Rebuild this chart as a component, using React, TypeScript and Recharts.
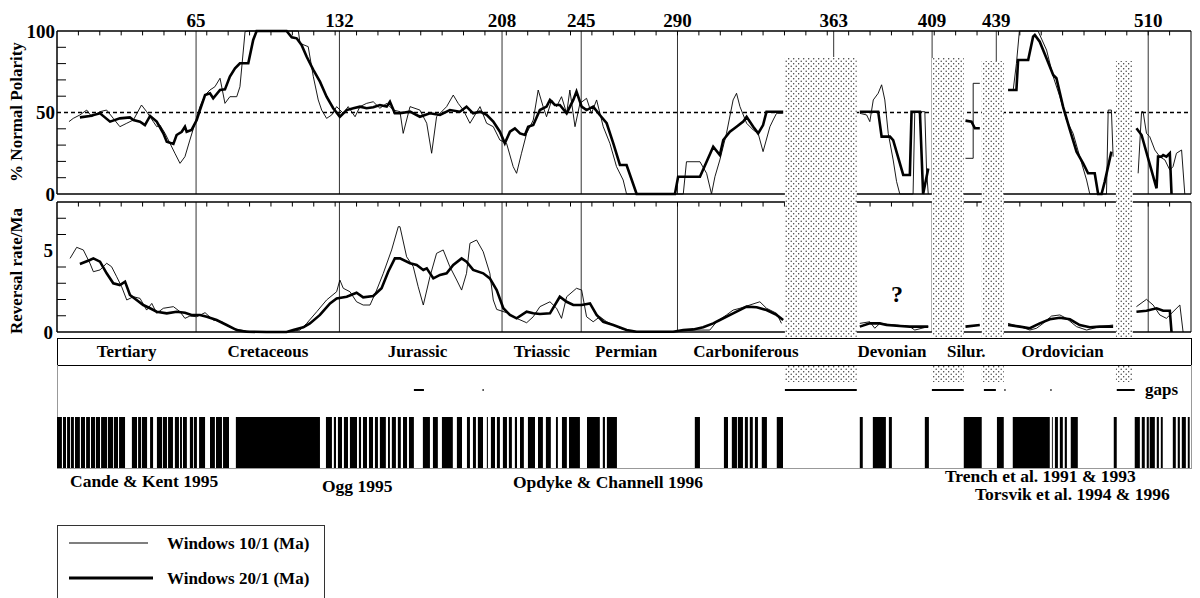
import React from 'react'
import { ComposedChart, Line, XAxis, YAxis, ReferenceLine, ReferenceArea } from 'recharts'

type Pt = [number, number]

// ages (Ma) of the labelled boundaries along the top
const majorAges = [65, 132, 208, 245, 290, 363, 409, 439, 510]
const minorAges = Array.from({ length: 52 }, (_, i) => (i + 1) * 10)

const periodNames = ['Tertiary', 'Cretaceous', 'Jurassic', 'Triassic', 'Permian', 'Carboniferous', 'Devonian', 'Silur.', 'Ordovician']
const periodCenters = [32.5, 98.6, 168.5, 226.6, 266.0, 322.0, 390.2, 425.0, 470.0]

// % normal polarity, 10/1 Ma windows (thin)
const polThin: Pt[][] = [
  [[5.6, 44.4], [7.6, 46.4], [10.7, 48.5], [13.9, 51.5], [16.2, 47.4], [20.1, 50.5], [23.2, 51.5], [26.3, 46.4], [29.4, 41.3], [32.6, 43.4], [35.7, 45.4], [39.5, 54.6], [41.9, 50.5], [45.0, 44.4], [46.6, 41.3], [48.1, 42.3], [50.5, 37.2], [52.8, 31.1], [55.1, 25.0], [57.5, 18.8], [59.8, 22.9], [62.1, 33.1], [64.5, 43.4], [66.8, 53.6], [69.2, 60.7], [71.5, 63.8], [73.8, 65.8], [76.2, 71.0], [78.5, 55.6], [80.8, 59.7], [84.0, 59.7], [85.5, 65.8], [87.9, 99.6], [89.4, 100], [112.8, 100], [113.6, 92.4], [117.4, 90.4], [119.8, 72.0], [122.1, 57.7], [123.7, 51.5], [126.0, 46.4], [128.4, 48.5], [130.7, 53.6], [133.8, 49.5], [136.1, 53.6], [139.3, 47.4], [141.6, 53.6], [144.7, 55.6], [147.8, 56.6], [150.9, 52.6], [154.1, 55.6], [157.2, 51.5], [160.3, 50.5], [161.8, 37.2], [165.0, 53.6], [169.6, 51.5], [172.8, 43.4], [175.1, 25.0], [177.4, 47.4], [182.1, 53.6], [185.2, 60.7], [187.5, 55.6], [189.9, 51.5], [193.0, 43.4], [197.7, 53.6], [200.8, 43.4], [203.9, 41.3], [207.0, 33.1], [210.1, 31.1], [213.2, 16.8], [214.8, 12.7], [217.1, 25.0], [219.5, 37.2], [222.6, 45.4], [224.9, 63.8], [227.2, 53.6], [228.8, 47.4], [231.2, 57.7], [233.5, 53.6], [235.8, 59.7], [238.2, 49.5], [239.7, 63.8], [242.1, 41.3], [244.4, 55.6], [247.5, 58.7], [249.8, 49.5], [252.2, 57.7], [255.3, 41.3], [258.4, 31.1], [261.5, 16.8], [264.6, 8.6], [266.2, 0], [292.7, 0], [294.2, 19.8], [300.5, 19.8], [303.6, 12.7], [305.9, 0], [307.5, 10.6], [309.8, 20.9], [312.9, 37.2], [316.0, 57.7], [317.6, 61.8], [319.2, 53.6], [322.3, 43.4], [325.4, 39.3], [327.7, 37.2], [330.0, 26.0], [333.2, 41.3], [334.7, 45.4], [336.3, 49.5], [339.4, 49.5]],
  [[375.2, 49.5], [378.4, 48.5], [379.9, 44.4], [381.5, 57.7], [383.8, 61.8], [385.4, 67.0], [386.9, 57.7], [388.5, 37.2], [390.8, 20.9], [392.4, 7.6], [393.9, 0], [400.1, 0], [400.9, 50.5], [405.6, 50.5], [406.4, 14.7], [407.2, 0]],
  [[424.6, 21.9], [428.2, 21.9], [428.2, 67.9], [431.3, 67.9]],
  [[446.9, 63.8], [448.4, 80.0], [449.8, 100], [458.5, 100], [462.5, 88.3], [465.6, 72.0], [468.7, 59.7], [471.8, 45.4], [474.9, 37.2], [478.0, 22.9], [481.2, 8.6], [482.7, 0], [490.5, 0], [491.3, 51.5], [492.8, 51.5], [493.6, 22.9]],
  [[505.3, 12.7], [506.9, 50.5], [507.6, 50.5], [509.2, 37.2], [510.7, 35.2], [513.1, 27.0], [515.4, 22.9], [517.8, 20.9], [520.1, 14.7], [521.6, 16.8], [523.2, 25.0], [525.6, 27.0], [527.1, 0]],
]

// % normal polarity, 20/1 Ma windows (thick)
const polThick: Pt[][] = [
  [[10.7, 47.0], [15.4, 47.9], [20.1, 49.5], [24.8, 44.4], [29.4, 46.4], [34.1, 47.0], [35.7, 45.4], [38.8, 44.4], [41.1, 42.3], [43.5, 47.9], [46.6, 44.4], [49.7, 37.2], [51.3, 32.1], [54.4, 30.7], [55.9, 36.2], [58.3, 38.2], [59.8, 41.3], [60.6, 38.2], [62.9, 39.3], [65.3, 45.4], [66.8, 51.5], [69.2, 60.7], [71.5, 61.8], [73.0, 58.7], [76.2, 63.8], [78.5, 64.2], [80.8, 72.0], [83.2, 77.1], [85.5, 80.2], [89.4, 80.2], [91.7, 94.5], [93.3, 100], [107.3, 100], [109.7, 96.1], [112.0, 95.5], [114.3, 91.4], [116.7, 84.2], [119.8, 76.1], [122.9, 68.9], [126.0, 59.7], [129.1, 52.6], [132.2, 47.4], [135.4, 51.5], [138.5, 52.6], [141.6, 53.6], [144.7, 52.6], [147.8, 53.2], [150.9, 54.6], [154.1, 53.6], [155.6, 56.6], [157.9, 49.5], [160.3, 49.5], [165.0, 50.5], [169.6, 47.4], [174.3, 49.5], [179.0, 48.5], [183.6, 51.5], [188.3, 50.5], [191.4, 53.6], [194.5, 49.5], [197.7, 50.5], [200.8, 48.5], [203.9, 44.4], [207.0, 38.2], [209.3, 31.1], [211.7, 38.2], [214.0, 40.3], [216.4, 37.2], [218.7, 36.2], [220.2, 41.3], [222.6, 42.3], [225.7, 51.5], [228.8, 53.6], [230.4, 57.7], [232.7, 54.6], [235.0, 54.6], [238.2, 49.5], [241.3, 57.7], [242.8, 62.8], [245.2, 53.6], [247.5, 51.5], [250.6, 53.6], [253.7, 48.5], [256.9, 43.4], [260.0, 31.1], [263.1, 17.8], [266.2, 17.8], [270.9, 0], [288.8, 0], [290.3, 10.6], [300.5, 10.6], [303.6, 19.8], [306.7, 29.0], [309.8, 23.9], [311.4, 33.1], [314.5, 38.2], [317.6, 41.3], [320.7, 44.4], [322.3, 47.4], [325.4, 41.3], [327.7, 37.2], [330.0, 42.3], [331.6, 50.5], [339.4, 50.5]],
  [[375.2, 50.5], [383.8, 50.5], [385.4, 35.2], [389.3, 35.2], [390.8, 33.1], [395.5, 11.7], [398.6, 11.7], [399.4, 50.5], [403.3, 50.5], [404.8, 0], [407.2, 15.7]],
  [[424.6, 45.0], [427.4, 44.4], [429.0, 40.3], [431.3, 40.3]],
  [[444.5, 63.8], [448.4, 63.8], [449.2, 82.2], [453.9, 82.2], [456.2, 96.5], [457.0, 97.5], [459.3, 93.4], [462.5, 83.2], [465.6, 73.0], [467.1, 71.0], [470.2, 53.6], [473.4, 39.3], [476.5, 26.0], [479.6, 18.8], [481.9, 12.7], [485.0, 12.7], [486.6, 0], [488.2, 0], [489.7, 7.6], [492.8, 26.0]],
  [[504.5, 40.3], [506.9, 36.2], [513.9, 3.5], [514.6, 22.9], [516.2, 22.9], [517.0, 23.9], [518.5, 22.9], [520.1, 25.0], [520.9, 0]],
]

// reversal rate per Ma, 10/1 windows (thin)
const rateThin: Pt[][] = [
  [[6.1, 4.53], [9.2, 5.21], [12.3, 5.05], [15.4, 4.23], [17.0, 3.71], [20.1, 3.82], [23.2, 4.23], [25.5, 4.02], [27.9, 3.40], [30.2, 2.79], [32.6, 1.97], [35.7, 2.17], [38.8, 2.07], [41.9, 1.35], [44.3, 1.76], [46.6, 1.15], [49.7, 1.46], [54.4, 1.56], [57.5, 1.25], [59.8, 0.84], [62.1, 0.98], [65.3, 0.94], [69.2, 1.19], [73.0, 0.74], [77.0, 0.63], [80.8, 0.29], [85.5, 0.12], [91.7, 0], [107.3, 0], [113.6, 0.12], [116.7, 0.53], [121.4, 1.25], [126.0, 1.97], [130.7, 2.48], [132.2, 3.20], [133.8, 2.69], [136.9, 2.48], [140.0, 1.86], [143.1, 1.66], [146.3, 1.66], [149.4, 2.58], [152.5, 3.61], [156.4, 5.05], [159.5, 6.48], [160.3, 6.48], [163.4, 4.63], [166.5, 4.02], [168.8, 2.79], [171.2, 1.66], [174.3, 3.40], [177.4, 4.84], [180.5, 5.05], [183.6, 4.02], [186.8, 3.20], [189.1, 2.58], [191.4, 3.61], [193.0, 5.46], [196.1, 5.66], [199.2, 4.94], [202.3, 3.61], [203.9, 1.97], [205.5, 1.39], [210.1, 1.19], [214.8, 0.84], [219.5, 0.57], [222.6, 0.94], [225.7, 1.56], [230.4, 1.86], [233.5, 1.46], [235.8, 0.84], [238.2, 2.17], [242.8, 2.69], [245.2, 2.58], [247.5, 0.94], [250.6, 0.63], [253.7, 0.94], [256.9, 0.63], [263.1, 0.23], [269.3, 0.02], [288.0, 0.02], [297.4, 0.12], [305.1, 0.12], [308.3, 0.63], [312.9, 1.05], [316.0, 1.35], [319.2, 1.46], [323.8, 1.66], [328.5, 1.86], [331.6, 1.46], [336.3, 1.15], [338.6, 0.53]],
  [[375.2, 0.53], [379.9, 0.63], [382.2, 0.23], [384.6, 0.53], [392.4, 0.43], [398.6, 0.33], [400.9, 0.12], [407.2, 0.33]],
  [[444.5, 0.53], [450.0, 0.33], [454.7, 0.12], [457.8, 0.23], [460.9, 0.53], [464.8, 0.98], [468.7, 1.05], [471.8, 0.84], [476.5, 0.33], [481.2, 0.12], [487.4, 0.33], [493.6, 0.43]],
  [[504.5, 1.56], [509.2, 2.01], [512.3, 1.66], [515.4, 1.05], [518.5, 0.84], [524.8, 1.66], [526.3, 0]],
]

// reversal rate per Ma, 20/1 windows (thick)
const rateThick: Pt[][] = [
  [[10.7, 4.18], [15.4, 4.43], [17.0, 4.53], [20.1, 4.33], [23.2, 3.61], [26.3, 3.00], [29.4, 2.89], [31.8, 3.10], [34.1, 2.28], [37.2, 1.97], [40.3, 1.66], [43.5, 1.46], [46.6, 1.25], [51.3, 1.15], [55.9, 1.25], [59.8, 1.19], [62.9, 1.05], [66.8, 1.05], [70.0, 0.94], [74.6, 0.74], [79.3, 0.43], [84.0, 0.12], [88.6, 0.02], [98.0, 0], [107.3, 0], [110.4, 0.12], [115.1, 0.29], [118.2, 0.53], [122.9, 1.05], [127.6, 1.76], [130.7, 2.07], [135.4, 2.17], [140.0, 2.42], [143.1, 2.13], [147.8, 2.22], [151.7, 2.69], [154.8, 3.71], [157.9, 4.53], [160.3, 4.53], [165.0, 4.23], [168.1, 4.12], [171.2, 3.82], [172.8, 3.92], [175.9, 3.30], [179.0, 3.51], [182.1, 3.61], [185.2, 4.12], [189.1, 4.53], [191.4, 4.33], [194.5, 3.82], [199.2, 3.61], [202.3, 3.30], [205.5, 2.58], [208.6, 1.46], [211.7, 1.05], [214.8, 0.84], [219.5, 1.25], [222.6, 1.15], [225.7, 1.11], [230.4, 1.15], [235.0, 2.17], [238.2, 1.86], [241.3, 1.66], [245.2, 1.66], [249.1, 1.76], [252.2, 1.05], [255.3, 0.63], [260.0, 0.43], [266.2, 0.12], [270.9, 0.02], [288.0, 0.02], [292.7, 0.12], [297.4, 0.16], [302.0, 0.29], [306.7, 0.53], [309.8, 0.74], [316.0, 1.15], [322.3, 1.56], [327.0, 1.52], [331.6, 1.35], [336.3, 1.05], [339.4, 0.74]],
  [[375.2, 0.33], [379.9, 0.53], [384.6, 0.53], [387.7, 0.43], [393.9, 0.37], [398.6, 0.33], [407.2, 0.33]],
  [[424.6, 0.33], [431.3, 0.43]],
  [[444.5, 0.43], [450.0, 0.33], [454.7, 0.23], [459.3, 0.53], [464.0, 0.78], [468.7, 0.88], [473.4, 0.78], [478.0, 0.43], [482.7, 0.29], [487.4, 0.33], [493.6, 0.33]],
  [[504.5, 1.25], [509.2, 1.31], [513.9, 1.46], [517.0, 1.31], [520.1, 1.31], [520.9, 0]],
]

// stratigraphic gaps (Ma) and the height the stipple reaches in the top panel (%)
const gapAreas: Pt[] = [[340.2, 373.8], [408.9, 423.8], [432.2, 442.5], [494.9, 502.8]]
const gapTops = [84, 83.4, 81.6, 81.6]
const gapMarks: Pt[] = [[340.2, 373.8], [408.9, 423.8], [433.2, 438.8], [442.8, 443.3], [464.3, 464.8], [495.3, 503.7], [166.8, 171.5], [198.9, 199.4]]

// normal polarity intervals (Ma)
const normalChrons: Pt[] = [
  [0, 2.3], [2.8, 4.2], [4.7, 6.1], [6.5, 7.9], [8.4, 10.7], [11.2, 13.1], [13.6, 15.4], [15.9, 17.8], [18.2, 20.1], [20.6, 23.4], [23.8, 26.2], [26.6, 28.5], [29.0, 31.8], [35.0, 37.4], [37.9, 39.3], [39.7, 42.1], [43.5, 44.9], [46.7, 49.1], [49.5, 51.4], [51.9, 54.2], [55.1, 57.0], [57.5, 58.4], [58.9, 60.7], [62.1, 63.6], [64.0, 65.4], [66.4, 69.2], [71.5, 73.8], [74.3, 77.1], [77.6, 80.4],
  [83.6, 122.9],
  [125.7, 128.5], [129.4, 130.4], [131.3, 133.2], [134.1, 136.0], [136.9, 140.2], [141.1, 142.1], [143.0, 144.9], [145.8, 147.7], [148.6, 150.0], [150.9, 153.7], [154.7, 155.6], [156.5, 158.4], [159.3, 160.7], [161.7, 163.6], [164.5, 166.8],
  [171.0, 174.3], [175.7, 178.0], [179.9, 185.0], [186.9, 189.3], [191.6, 193.0], [194.4, 195.8], [196.7, 199.1], [200.9, 201.4], [202.8, 204.7], [205.6, 207.0], [208.4, 210.3], [211.2, 212.6], [214.0, 215.0], [216.4, 218.2], [220.1, 223.4], [224.8, 227.1], [228.5, 230.8], [233.2, 234.1], [236.0, 238.3], [239.3, 244.4], [247.7, 253.7], [255.1, 256.1], [257.0, 261.7],
  [298.1, 300.5], [311.7, 313.6], [315.4, 317.8], [318.2, 320.6], [321.5, 322.9], [323.8, 325.2], [326.2, 327.6], [329.4, 331.8], [336.4, 339.3],
  [375.2, 376.6], [381.3, 387.4], [388.8, 390.2], [405.6, 407.5], [423.8, 432.2], [439.3, 442.5], [446.7, 464.0], [465.0, 465.4], [466.4, 467.8], [468.7, 470.1], [471.0, 472.0], [473.8, 477.1], [493.9, 495.3],
  [503.7, 506.1], [507.0, 508.4], [509.3, 510.3], [510.7, 513.1], [514.0, 515.0], [515.9, 516.8], [521.5, 522.9], [523.8, 524.8], [525.7, 527.6], [528.5, 529.4],
]

const FONT = '"Liberation Serif", "Times New Roman", Times, serif'
const X_DOMAIN: [number, number] = [0, 530]
const tickStyle = { fill: '#000', fontSize: 19, fontWeight: 700, fontFamily: FONT }
const periodTick = { fill: '#000', fontSize: 17, fontWeight: 700, fontFamily: FONT }

const toData = (segs: Pt[][]) =>
  segs.flatMap((seg, i) => [
    ...(i ? [{ x: seg[0][0] - 0.05, y: null as number | null }] : []),
    ...seg.map(([x, y]) => ({ x, y: y as number | null })),
  ])

const abs = (top: number): React.CSSProperties => ({ position: 'absolute', left: 0, top })

// invisible series so the overlay charts get their axes set up
const Anchor = ({ y }: { y: number }) => (
  <Line data={[{ x: 0, y }, { x: 530, y }]} dataKey="y" stroke="none" dot={false} activeDot={false} isAnimationActive={false} />
)

export default function App() {
  const lineProps = { dataKey: 'y', stroke: '#000', dot: false, isAnimationActive: false, connectNulls: false, type: 'linear' as const }
  return (
    <div style={{ position: 'relative', width: 1200, height: 598, overflow: 'hidden', background: '#fff', fontFamily: FONT }}>
      <style>{'body{margin:0}'}</style>

      {/* top panel: % normal polarity */}
      <div style={abs(0)}>
        <ComposedChart width={1200} height={204} margin={{ top: 0, right: 9, bottom: 10, left: 0 }}>
          <XAxis type="number" dataKey="x" domain={X_DOMAIN} orientation="top" height={31} ticks={majorAges} interval={0}
            tickLine={false} tickSize={0} tickMargin={4} axisLine={{ stroke: '#000', strokeWidth: 1.5 }} tick={tickStyle} />
          <YAxis type="number" domain={[0, 100]} ticks={[0, 50, 100]} interval={0} width={57}
            tickLine={false} tickSize={0} tickMargin={2} axisLine={{ stroke: '#000', strokeWidth: 1.5 }} tick={tickStyle} />
          {majorAges.map(a => <ReferenceLine key={'m' + a} x={a} stroke="#333" strokeWidth={1} />)}
          <ReferenceLine y={50} stroke="#000" strokeWidth={1.5} strokeDasharray="4 3" />
          <ReferenceLine y={0} stroke="#000" strokeWidth={1.5} />
          <ReferenceLine x={530} stroke="#000" strokeWidth={1} />
          {minorAges.map(a => <ReferenceLine key={'t' + a} segment={[{ x: a, y: 100 }, { x: a, y: 97.3 }]} stroke="#000" />)}
          {[10, 20, 30, 40, 60, 70, 80, 90].map(v => <ReferenceLine key={'l' + v} segment={[{ x: 0, y: v }, { x: 4.2, y: v }]} stroke="#000" />)}
          <Line {...lineProps} data={toData(polThin)} strokeWidth={0.9} />
          <Line {...lineProps} data={toData(polThick)} strokeWidth={2.6} />
        </ComposedChart>
      </div>

      {/* second panel: reversal rate */}
      <div style={abs(196)}>
        <ComposedChart width={1200} height={146} margin={{ top: 6, right: 9, bottom: 10, left: 0 }}>
          <XAxis hide type="number" dataKey="x" domain={X_DOMAIN} />
          <YAxis type="number" domain={[0, 8]} ticks={[0, 5]} interval={0} width={57}
            tickLine={false} tickSize={0} tickMargin={4} axisLine={{ stroke: '#000', strokeWidth: 1.5 }} tick={tickStyle} />
          {majorAges.map(a => <ReferenceLine key={'m' + a} x={a} stroke="#333" strokeWidth={1} />)}
          <ReferenceLine y={8} stroke="#000" strokeWidth={1.5} />
          <ReferenceLine y={0} stroke="#000" strokeWidth={1.5} />
          <ReferenceLine x={530} stroke="#000" strokeWidth={1} />
          {minorAges.map(a => <ReferenceLine key={'t' + a} segment={[{ x: a, y: 8 }, { x: a, y: 7.72 }]} stroke="#000" />)}
          {[1, 2, 3, 4, 6, 7].map(v => <ReferenceLine key={'l' + v} segment={[{ x: 0, y: v }, { x: 4.2, y: v }]} stroke="#000" />)}
          <Line {...lineProps} data={toData(rateThin)} strokeWidth={0.9} />
          <Line {...lineProps} data={toData(rateThick)} strokeWidth={2.6} />
        </ComposedChart>
      </div>

      {/* stippled gaps over both panels (y in top-panel % units) */}
      <div style={abs(0)}>
        <ComposedChart width={1200} height={337} margin={{ top: 31, right: 9, bottom: 0, left: 57 }}>
          <XAxis hide type="number" dataKey="x" domain={X_DOMAIN} />
          <YAxis hide type="number" domain={[-88, 100]} />
          {Anchor({ y: 0 })}
          {gapAreas.map(([a, b], i) => (
            <ReferenceArea key={'g' + i} x1={a} x2={b} y1={-88} y2={gapTops[i]} fill="url(#stipple)" fillOpacity={1} stroke="none" ifOverflow="visible" />
          ))}
        </ComposedChart>
      </div>

      {/* period band box and polarity frame */}
      <div style={{ position: 'absolute', left: 57, top: 338, width: 1135, height: 28, border: '1.5px solid #000', boxSizing: 'border-box' }} />
      <div style={{ position: 'absolute', left: 57, top: 365, width: 1135, height: 104, borderLeft: '1px solid #999', borderRight: '1px solid #999', borderBottom: '1px solid #999', boxSizing: 'border-box' }} />

      {/* periods, gaps, polarity column */}
      <div style={abs(338)}>
        <ComposedChart width={1200} height={132} margin={{ top: 0, right: 9, bottom: 0, left: 57 }}>
          <XAxis type="number" dataKey="x" domain={X_DOMAIN} orientation="top" height={28} ticks={periodCenters} interval={0}
            tickFormatter={(v: number) => periodNames[periodCenters.indexOf(v)]} tickLine={false} tickSize={0} tickMargin={9} axisLine={false} tick={periodTick} />
          <YAxis hide type="number" domain={[0, 104]} reversed />
          {Anchor({ y: 0 })}
          {gapAreas.map(([a, b], i) => (
            <ReferenceArea key={'s' + i} x1={a} x2={b} y1={0} y2={16} fill="url(#stipple)" fillOpacity={1} stroke="none" ifOverflow="visible" />
          ))}
          {gapMarks.map(([a, b], i) => (
            <ReferenceArea key={'k' + i} x1={a} x2={b} y1={23} y2={25} fill="#000" fillOpacity={1} stroke="none" ifOverflow="visible" />
          ))}
          {normalChrons.map(([a, b], i) => (
            <ReferenceArea key={'c' + i} x1={a} x2={b} y1={51} y2={102} fill="#000" fillOpacity={1} stroke="none" ifOverflow="visible" />
          ))}
        </ComposedChart>
      </div>

      {/* titles, notes, sources, legend */}
      <svg width={1200} height={598} style={{ position: 'absolute', left: 0, top: 0 }} fontFamily={FONT} fontWeight={700}>
        <defs>
          <pattern id="stipple" width="5" height="5" patternUnits="userSpaceOnUse">
            <rect width="5" height="5" fill="#fff" />
            <circle cx="1.2" cy="1.2" r="0.7" fill="#333" />
            <circle cx="3.7" cy="3.7" r="0.7" fill="#333" />
          </pattern>
        </defs>
        <text transform="rotate(-90)" x={-112} y={22} textAnchor="middle" fontSize={17}>% Normal Polarity</text>
        <text transform="rotate(-90)" x={-271} y={22} textAnchor="middle" fontSize={17}>Reversal rate/Ma</text>
        <text x={897} y={302} textAnchor="middle" fontSize={24}>?</text>
        <text x={1145} y={395} fontSize={17}>gaps</text>
        <text x={70} y={487} fontSize={17.5}>Cande &amp; Kent 1995</text>
        <text x={322} y={492} fontSize={17.5}>Ogg 1995</text>
        <text x={513} y={488} fontSize={17.5}>Opdyke &amp; Channell 1996</text>
        <text x={945} y={482} fontSize={17.5}>Trench et al. 1991 &amp; 1993</text>
        <text x={975} y={500} fontSize={17.5}>Torsvik et al. 1994 &amp; 1996</text>
        <rect x={57.5} y={525.5} width={267} height={90} fill="none" stroke="#333" strokeWidth={1} />
        <line x1={69} x2={148} y1={543} y2={543} stroke="#000" strokeWidth={1.2} />
        <text x={167} y={549} fontSize={17}>Windows 10/1 (Ma)</text>
        <line x1={69} x2={153} y1={578} y2={578} stroke="#000" strokeWidth={2.8} />
        <text x={167} y={584} fontSize={17}>Windows 20/1 (Ma)</text>
      </svg>
    </div>
  )
}
